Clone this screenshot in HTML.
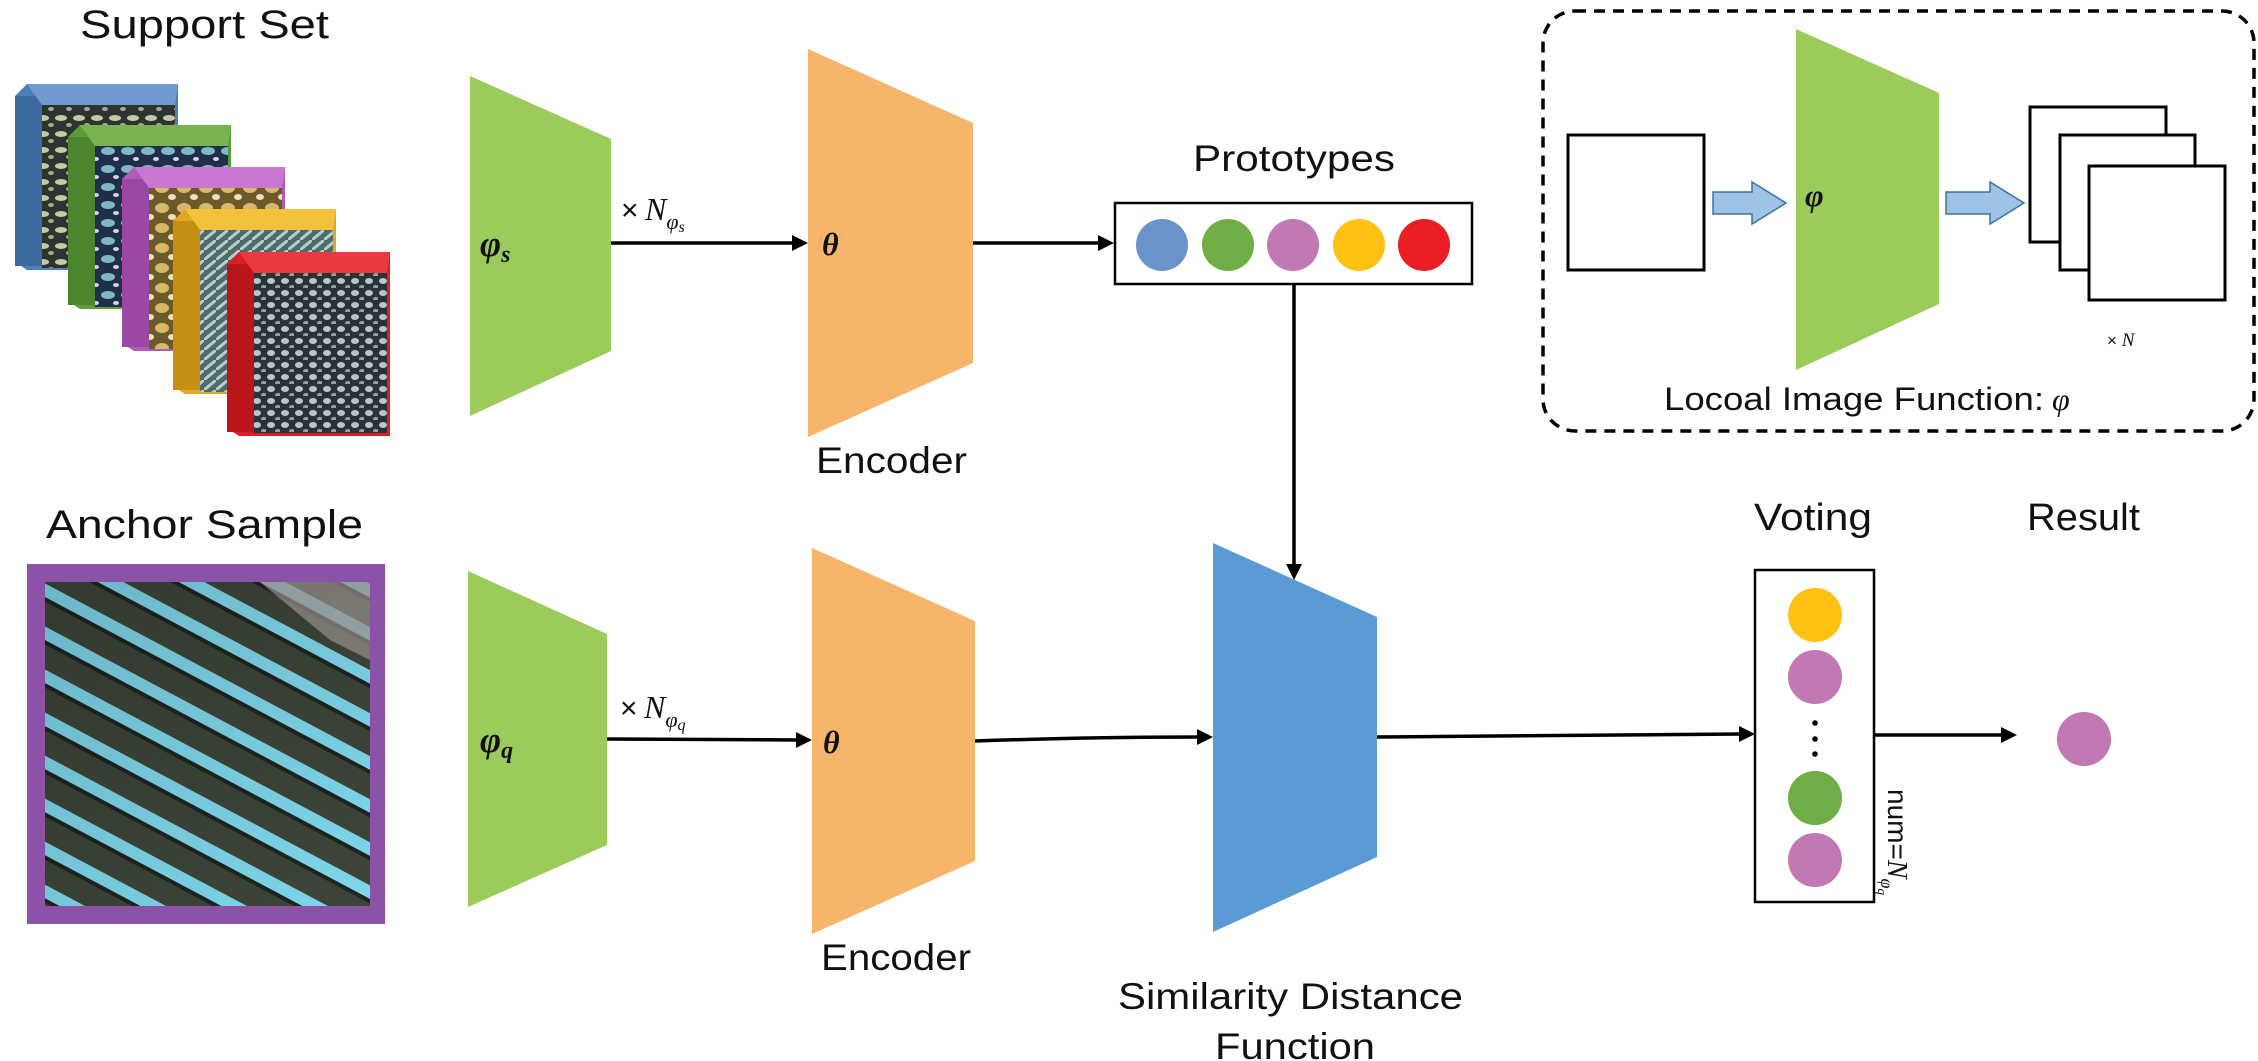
<!DOCTYPE html>
<html><head><meta charset="utf-8"><style>
html,body{margin:0;padding:0;background:#fff;}
svg{display:block;}
.t{font-family:"Liberation Sans",Arial,sans-serif;fill:#111;}
.m{font-family:"Liberation Serif","DejaVu Serif",serif;font-style:italic;fill:#111;}
</style></head><body>
<svg width="2258" height="1061" viewBox="0 0 2258 1061" xmlns="http://www.w3.org/2000/svg">
<defs>
<pattern id="dots" width="14" height="12" patternUnits="userSpaceOnUse">
<rect width="14" height="12" fill="#2a3238"/>
<ellipse cx="5" cy="5" rx="4" ry="3" fill="#b8c6c8"/>
<ellipse cx="12" cy="11" rx="3" ry="2" fill="#8fa3a8"/>
</pattern>
<pattern id="brain" width="18" height="16" patternUnits="userSpaceOnUse">
<rect width="18" height="16" fill="#2b3530"/>
<ellipse cx="7" cy="6" rx="6" ry="3" fill="#c9c6a6"/>
<ellipse cx="15" cy="13" rx="3" ry="2" fill="#a9a98a"/>
</pattern>
<pattern id="gold" width="22" height="20" patternUnits="userSpaceOnUse">
<rect width="22" height="20" fill="#6b5a2a"/>
<ellipse cx="8" cy="8" rx="7" ry="5" fill="#d9b66a"/>
<ellipse cx="18" cy="17" rx="4" ry="3" fill="#f1e2b8"/>
</pattern>
<pattern id="blueish" width="20" height="18" patternUnits="userSpaceOnUse">
<rect width="20" height="18" fill="#1f2f4a"/>
<ellipse cx="8" cy="7" rx="7" ry="4" fill="#7fb6c8"/>
<ellipse cx="16" cy="15" rx="3" ry="2" fill="#d6d0e8"/>
</pattern>
<pattern id="lines" width="12" height="10" patternUnits="userSpaceOnUse">
<rect width="12" height="10" fill="#4f6a6a"/>
<line x1="0" y1="10" x2="12" y2="0" stroke="#b7cfc8" stroke-width="3"/>
</pattern>
<pattern id="stripes" width="60" height="38" patternUnits="userSpaceOnUse" patternTransform="rotate(28)">
<rect width="60" height="38" fill="#3c4538"/>
<rect y="0" width="60" height="12" fill="#7fd6ea"/>
<rect y="12" width="60" height="4" fill="#1e2420"/>
</pattern>
<linearGradient id="ov" x1="0" y1="0" x2="1" y2="1">
<stop offset="0" stop-color="#000" stop-opacity="0.15"/>
<stop offset="1" stop-color="#000" stop-opacity="0"/>
</linearGradient>
</defs>

<!-- Support set cards -->
<g>
<!-- blue -->
<polygon points="15,96 27,84 178,84 178,270 27,270 15,262" fill="#4f7fb8"/>
<rect x="15" y="96" width="27" height="170" fill="#3d6aa0"/>
<polygon points="27,84 178,84 175,105 42,105" fill="#6f9ad0"/>
<rect x="42" y="105" width="133" height="163" fill="url(#brain)"/>
<!-- green -->
<polygon points="68,137 80,125 231,125 231,309 80,309 68,301" fill="#5d9a3a"/>
<rect x="68" y="137" width="27" height="168" fill="#4c8530"/>
<polygon points="80,125 231,125 228,146 95,146" fill="#78b550"/>
<rect x="95" y="146" width="133" height="161" fill="url(#blueish)"/>
<!-- purple -->
<polygon points="122,179 134,167 285,167 285,351 134,351 122,343" fill="#b05cb8"/>
<rect x="122" y="179" width="27" height="168" fill="#9a48a4"/>
<polygon points="134,167 285,167 282,188 149,188" fill="#c878d0"/>
<rect x="149" y="188" width="133" height="161" fill="url(#gold)"/>
<!-- yellow -->
<polygon points="173,221 185,209 336,209 336,394 185,394 173,386" fill="#e0a820"/>
<rect x="173" y="221" width="27" height="169" fill="#c58f14"/>
<polygon points="185,209 336,209 333,230 200,230" fill="#f2c23a"/>
<rect x="200" y="230" width="133" height="162" fill="url(#lines)"/>
<!-- red -->
<polygon points="227,264 239,252 390,252 390,436 239,436 227,428" fill="#d81f26"/>
<rect x="227" y="264" width="27" height="168" fill="#b9161c"/>
<polygon points="239,252 390,252 387,273 254,273" fill="#ea3a3f"/>
<rect x="254" y="273" width="133" height="160" fill="url(#dots)"/>
</g>

<!-- Anchor image -->
<rect x="27" y="564" width="358" height="360" fill="#8b52a8"/>
<rect x="45" y="582" width="325" height="324" fill="url(#stripes)"/>
<rect x="45" y="582" width="325" height="324" fill="url(#ov)"/>
<polygon points="260,582 370,582 370,660 330,640" fill="#9a8f8a" opacity="0.7"/>

<!-- Titles -->
<text class="t" x="80" y="38" font-size="40" textLength="249" lengthAdjust="spacingAndGlyphs">Support Set</text>
<text class="t" x="46" y="538" font-size="40" textLength="317" lengthAdjust="spacingAndGlyphs">Anchor Sample</text>

<!-- Green φs / φq -->
<polygon points="470,76 611,139 611,351 470,416" fill="#9bcb5a"/>
<polygon points="468,571 607,634 607,845 468,907" fill="#9bcb5a"/>
<text class="m" x="480" y="256" font-size="36" font-weight="bold">φ<tspan font-size="24" dy="6">s</tspan></text>
<text class="m" x="480" y="752" font-size="36" font-weight="bold">φ<tspan font-size="24" dy="6">q</tspan></text>

<!-- Orange encoders -->
<polygon points="808,49 973,123 973,363 808,437" fill="#f7b56b"/>
<polygon points="812,548 975,621 975,861 812,934" fill="#f7b56b"/>
<text class="m" x="822" y="255" font-size="32" font-weight="bold">θ</text>
<text class="m" x="823" y="753" font-size="32" font-weight="bold">θ</text>
<text class="t" x="816" y="473" font-size="37" textLength="151" lengthAdjust="spacingAndGlyphs">Encoder</text>
<text class="t" x="821" y="970" font-size="37" textLength="150" lengthAdjust="spacingAndGlyphs">Encoder</text>

<!-- Blue similarity -->
<polygon points="1213,543 1377,617 1377,857 1213,932" fill="#5b9bd5"/>
<text class="t" x="1118" y="1009" font-size="37" textLength="345" lengthAdjust="spacingAndGlyphs">Similarity Distance</text>
<text class="t" x="1215" y="1059" font-size="37" textLength="160" lengthAdjust="spacingAndGlyphs">Function</text>

<!-- Arrows top row -->
<g stroke="#000" stroke-width="3.5" fill="none">
<line x1="611" y1="243" x2="796" y2="243"/>
<line x1="973" y1="243" x2="1100" y2="243"/>
<line x1="1294" y1="284" x2="1294" y2="566"/>
<line x1="607" y1="739" x2="800" y2="740"/>
<path d="M975,741 Q1090,737 1200,737"/>
<line x1="1377" y1="737" x2="1741" y2="734"/>
<line x1="1874" y1="735" x2="2003" y2="735"/>
</g>
<g fill="#000">
<polygon points="808,243 792,235 792,251"/>
<polygon points="1114,243 1098,235 1098,251"/>
<polygon points="1294,580 1286,564 1302,564"/>
<polygon points="812,740 796,732 796,748"/>
<polygon points="1213,737 1197,729 1197,745"/>
<polygon points="1755,734 1739,726 1739,742"/>
<polygon points="2017,735 2001,727 2001,743"/>
</g>
<text x="621" y="220" font-size="30" class="t">×</text>
<text class="m" x="645" y="220" font-size="32">N<tspan font-size="22" dy="9">φ</tspan><tspan font-size="16" dy="3">s</tspan></text>
<text x="620" y="718" font-size="30" class="t">×</text>
<text class="m" x="644" y="718" font-size="32">N<tspan font-size="22" dy="9">φ</tspan><tspan font-size="16" dy="3">q</tspan></text>

<!-- Prototypes -->
<text class="t" x="1193" y="171" font-size="37" textLength="202" lengthAdjust="spacingAndGlyphs">Prototypes</text>
<rect x="1115" y="203" width="357" height="81" fill="#fff" stroke="#000" stroke-width="2.5"/>
<circle cx="1162" cy="245" r="26" fill="#6a93cb"/>
<circle cx="1228" cy="245" r="26" fill="#6fad46"/>
<circle cx="1293" cy="245" r="26" fill="#c278b3"/>
<circle cx="1359" cy="245" r="26" fill="#ffc114"/>
<circle cx="1424" cy="245" r="26" fill="#eb1d25"/>

<!-- Voting -->
<text class="t" x="1754" y="530" font-size="38" textLength="118" lengthAdjust="spacingAndGlyphs">Voting</text>
<text class="t" x="2027" y="530" font-size="38" textLength="113" lengthAdjust="spacingAndGlyphs">Result</text>
<rect x="1755" y="570" width="119" height="332" fill="#fff" stroke="#000" stroke-width="2.5"/>
<circle cx="1815" cy="615" r="27" fill="#ffc114"/>
<circle cx="1815" cy="677" r="27" fill="#c278b3"/>
<circle cx="1815" cy="723" r="2.8" fill="#000"/>
<circle cx="1815" cy="739" r="2.8" fill="#000"/>
<circle cx="1815" cy="754" r="2.8" fill="#000"/>
<circle cx="1815" cy="798" r="27" fill="#6fad46"/>
<circle cx="1815" cy="860" r="27" fill="#c278b3"/>
<circle cx="2084" cy="739" r="27" fill="#c278b3"/>
<g transform="translate(1888,789) rotate(90)">
<text class="t" x="0" y="0" font-size="28">num=<tspan class="m" font-size="28">N</tspan><tspan class="m" font-size="18" dy="7">φ</tspan><tspan class="m" font-size="13" dy="3">q</tspan></text>
</g>

<!-- Inset -->
<rect x="1543" y="11" width="711" height="420" rx="32" ry="32" fill="none" stroke="#000" stroke-width="3.5" stroke-dasharray="11,8"/>
<rect x="1568" y="135" width="136" height="135" fill="#fff" stroke="#000" stroke-width="3"/>
<polygon points="1796,29 1939,93 1939,304 1796,370" fill="#9bcb5a"/>
<text class="m" x="1805" y="206" font-size="32" font-weight="bold">φ</text>
<polygon points="1713,192 1752,192 1752,182 1786,203 1752,224 1752,214 1713,214" fill="#9dc3e6" stroke="#41719c" stroke-width="1.5"/>
<polygon points="1946,192 1990,192 1990,182 2024,203 1990,224 1990,214 1946,214" fill="#9dc3e6" stroke="#41719c" stroke-width="1.5"/>
<rect x="2030" y="107" width="136" height="135" fill="#fff" stroke="#000" stroke-width="3"/>
<rect x="2060" y="135" width="135" height="135" fill="#fff" stroke="#000" stroke-width="3"/>
<rect x="2089" y="166" width="136" height="134" fill="#fff" stroke="#000" stroke-width="3"/>
<text class="t" x="2107" y="346" font-size="17">×<tspan class="m" font-size="19"> N</tspan></text>
<text class="t" x="1664" y="410" font-size="32" textLength="380" lengthAdjust="spacingAndGlyphs">Locoal Image Function:</text>
<text class="m" x="2052" y="410" font-size="32">φ</text>
</svg>
</body></html>
